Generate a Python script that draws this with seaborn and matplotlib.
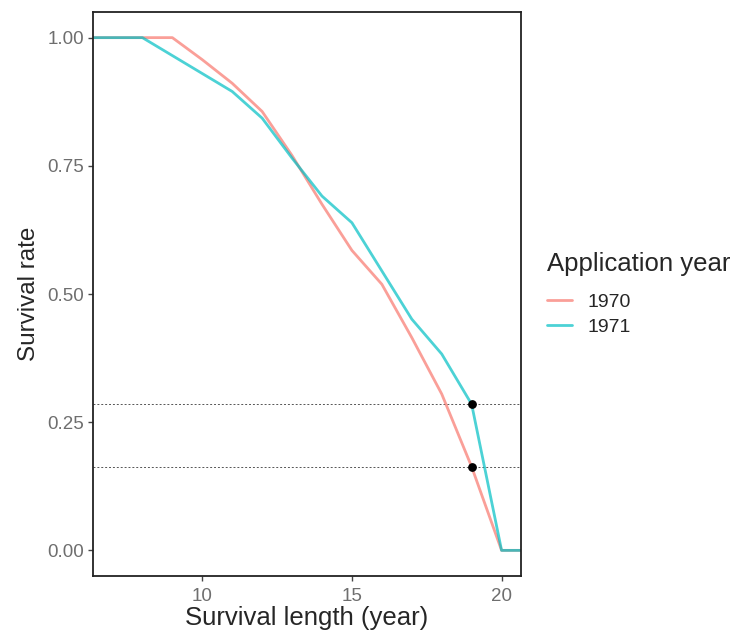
import pandas as pd
import seaborn as sns
import matplotlib.pyplot as plt

years = [5, 6, 7, 8, 9, 10, 11, 12, 13, 14, 15, 16, 17, 18, 19, 20, 21]
rate_1970 = [1.0, 1.0, 1.0, 1.0, 1.0, 0.957, 0.911, 0.856, 0.770, 0.675, 0.585, 0.519, 0.415, 0.305, 0.163, 0.0, 0.0]
rate_1971 = [1.0, 1.0, 1.0, 1.0, 0.965, 0.930, 0.895, 0.843, 0.765, 0.691, 0.639, 0.545, 0.451, 0.383, 0.285, 0.0, 0.0]
marked_year = 19
marked_1970 = 0.163
marked_1971 = 0.285

df = pd.concat([
    pd.DataFrame({'length': years, 'rate': rate_1970, 'year': '1970'}),
    pd.DataFrame({'length': years, 'rate': rate_1971, 'year': '1971'}),
])

sns.set_style('white')
plt.rcParams['font.family'] = ['Liberation Sans', 'DejaVu Sans']

fig = plt.figure(figsize=(7.4, 6.35), dpi=100)
ax = fig.add_axes([0.1257, 0.0929, 0.5784, 0.8882])

sns.lineplot(data=df, x='length', y='rate', hue='year',
             palette={'1970': '#F8766D', '1971': '#00BFC4'},
             alpha=0.7, linewidth=2, ax=ax)

# reference levels at year 19
for v in [marked_1970, marked_1971]:
    ax.axhline(v, color='#555555', linestyle=(0, (2, 2)), linewidth=0.7, zorder=1)
ax.scatter([marked_year, marked_year], [marked_1970, marked_1971], color='black', s=28, zorder=5)

ax.set_xlim(6.35, 20.65)
ax.set_ylim(-0.05, 1.05)
ax.set_xticks([10, 15, 20])
ax.set_yticks([0, 0.25, 0.5, 0.75, 1.0])
ax.set_yticklabels(['0.00', '0.25', '0.50', '0.75', '1.00'])
ax.tick_params(axis='both', length=3.5, width=1, color='#444444', labelcolor='#6e6e6e',
               labelsize=13.5, direction='out', bottom=True, left=True, pad=3)
ax.tick_params(axis='x', pad=5)
for s in ax.spines.values():
    s.set_color('#222222')
    s.set_linewidth(1.3)
ax.set_xlabel('Survival length (year)', fontsize=18.5, labelpad=1)
ax.set_ylabel('Survival rate', fontsize=17.5, labelpad=5)

leg = ax.legend(title='Application year', loc='center left', bbox_to_anchor=(1.02, 0.5),
                frameon=False, fontsize=14, title_fontsize=18.5, handlelength=1.3,
                labelspacing=0.4, alignment='left')
leg._legend_box.sep = 12.5
for h in leg.get_lines():
    h.set_linewidth(2)

fig.savefig('out.png', dpi=100)
